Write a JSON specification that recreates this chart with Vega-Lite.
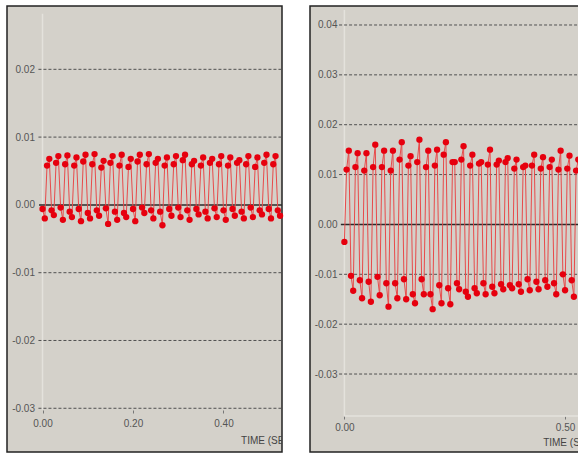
{
  "$schema": "https://vega.github.io/schema/vega-lite/v6.json",
  "background": "white",
  "padding": {"left": 6, "top": 5, "right": 0, "bottom": 0},
  "spacing": 25,
  "config": {
    "view": {"fill": "#d4d1ca", "stroke": "#222222", "strokeWidth": 1.5},
    "axis": {"labelFont": "Liberation Sans", "labelFontSize": 10, "labelColor": "#555555", "grid": false}
  },
  "datasets": {
    "left": [
      {"t":0.000,"v":-0.0006},{"t":0.005,"v":-0.0020},{"t":0.010,"v":0.0058},{"t":0.015,"v":0.0068},
      {"t":0.020,"v":-0.0008},{"t":0.025,"v":-0.0015},{"t":0.030,"v":0.0062},{"t":0.035,"v":0.0072},
      {"t":0.040,"v":-0.0004},{"t":0.045,"v":-0.0022},{"t":0.050,"v":0.0060},{"t":0.055,"v":0.0073},
      {"t":0.060,"v":-0.0010},{"t":0.065,"v":-0.0018},{"t":0.070,"v":0.0058},{"t":0.075,"v":0.0070},
      {"t":0.080,"v":-0.0006},{"t":0.085,"v":-0.0024},{"t":0.090,"v":0.0064},{"t":0.095,"v":0.0074},
      {"t":0.100,"v":-0.0012},{"t":0.105,"v":-0.0020},{"t":0.110,"v":0.0060},{"t":0.115,"v":0.0075},
      {"t":0.120,"v":-0.0008},{"t":0.125,"v":-0.0016},{"t":0.130,"v":0.0055},{"t":0.135,"v":0.0065},
      {"t":0.140,"v":-0.0005},{"t":0.145,"v":-0.0028},{"t":0.150,"v":0.0062},{"t":0.155,"v":0.0072},
      {"t":0.160,"v":-0.0010},{"t":0.165,"v":-0.0022},{"t":0.170,"v":0.0058},{"t":0.175,"v":0.0074},
      {"t":0.180,"v":-0.0012},{"t":0.185,"v":-0.0018},{"t":0.190,"v":0.0056},{"t":0.195,"v":0.0068},
      {"t":0.200,"v":-0.0006},{"t":0.205,"v":-0.0024},{"t":0.210,"v":0.0064},{"t":0.215,"v":0.0074},
      {"t":0.220,"v":-0.0004},{"t":0.225,"v":-0.0012},{"t":0.230,"v":0.0060},{"t":0.235,"v":0.0075},
      {"t":0.240,"v":-0.0008},{"t":0.245,"v":-0.0020},{"t":0.250,"v":0.0062},{"t":0.255,"v":0.0068},
      {"t":0.260,"v":-0.0010},{"t":0.265,"v":-0.0030},{"t":0.270,"v":0.0058},{"t":0.275,"v":0.0070},
      {"t":0.280,"v":-0.0006},{"t":0.285,"v":-0.0016},{"t":0.290,"v":0.0060},{"t":0.295,"v":0.0072},
      {"t":0.300,"v":-0.0004},{"t":0.305,"v":-0.0018},{"t":0.310,"v":0.0066},{"t":0.315,"v":0.0074},
      {"t":0.320,"v":-0.0008},{"t":0.325,"v":-0.0022},{"t":0.330,"v":0.0060},{"t":0.335,"v":0.0065},
      {"t":0.340,"v":-0.0006},{"t":0.345,"v":-0.0014},{"t":0.350,"v":0.0058},{"t":0.355,"v":0.0070},
      {"t":0.360,"v":-0.0010},{"t":0.365,"v":-0.0020},{"t":0.370,"v":0.0062},{"t":0.375,"v":0.0068},
      {"t":0.380,"v":-0.0005},{"t":0.385,"v":-0.0018},{"t":0.390,"v":0.0060},{"t":0.395,"v":0.0072},
      {"t":0.400,"v":-0.0008},{"t":0.405,"v":-0.0022},{"t":0.410,"v":0.0058},{"t":0.415,"v":0.0070},
      {"t":0.420,"v":-0.0006},{"t":0.425,"v":-0.0016},{"t":0.430,"v":0.0062},{"t":0.435,"v":0.0066},
      {"t":0.440,"v":-0.0010},{"t":0.445,"v":-0.0020},{"t":0.450,"v":0.0060},{"t":0.455,"v":0.0072},
      {"t":0.460,"v":-0.0004},{"t":0.465,"v":-0.0018},{"t":0.470,"v":0.0056},{"t":0.475,"v":0.0070},
      {"t":0.480,"v":-0.0008},{"t":0.485,"v":-0.0014},{"t":0.490,"v":0.0062},{"t":0.495,"v":0.0074},
      {"t":0.500,"v":-0.0006},{"t":0.505,"v":-0.0020},{"t":0.510,"v":0.0060},{"t":0.515,"v":0.0072},
      {"t":0.520,"v":-0.0008},{"t":0.525,"v":-0.0016}
    ],
    "right": [
      {"t":0.000,"v":-0.0035},
      {"t":0.005,"v":0.0110},{"t":0.010,"v":0.0148},{"t":0.015,"v":-0.0103},{"t":0.020,"v":-0.0133},
      {"t":0.025,"v":0.0115},{"t":0.030,"v":0.0143},{"t":0.035,"v":-0.0112},{"t":0.040,"v":-0.0148},
      {"t":0.045,"v":0.0108},{"t":0.050,"v":0.0143},{"t":0.055,"v":-0.0115},{"t":0.060,"v":-0.0155},
      {"t":0.065,"v":0.0115},{"t":0.070,"v":0.0160},{"t":0.075,"v":-0.0105},{"t":0.080,"v":-0.0142},
      {"t":0.085,"v":0.0115},{"t":0.090,"v":0.0148},{"t":0.095,"v":-0.0118},{"t":0.100,"v":-0.0165},
      {"t":0.105,"v":0.0108},{"t":0.110,"v":0.0148},{"t":0.115,"v":-0.0118},{"t":0.120,"v":-0.0148},
      {"t":0.125,"v":0.0130},{"t":0.130,"v":0.0165},{"t":0.135,"v":-0.0110},{"t":0.140,"v":-0.0150},
      {"t":0.145,"v":0.0118},{"t":0.150,"v":0.0137},{"t":0.155,"v":-0.0140},{"t":0.160,"v":-0.0158},
      {"t":0.165,"v":0.0125},{"t":0.170,"v":0.0170},{"t":0.175,"v":-0.0110},{"t":0.180,"v":-0.0140},
      {"t":0.185,"v":0.0115},{"t":0.190,"v":0.0148},{"t":0.195,"v":-0.0140},{"t":0.200,"v":-0.0170},
      {"t":0.205,"v":0.0118},{"t":0.210,"v":0.0150},{"t":0.215,"v":-0.0122},{"t":0.220,"v":-0.0158},
      {"t":0.225,"v":0.0140},{"t":0.230,"v":0.0165},{"t":0.235,"v":-0.0128},{"t":0.240,"v":-0.0160},
      {"t":0.245,"v":0.0125},{"t":0.250,"v":0.0125},{"t":0.255,"v":-0.0118},{"t":0.260,"v":-0.0130},
      {"t":0.265,"v":0.0130},{"t":0.270,"v":0.0157},{"t":0.275,"v":-0.0135},{"t":0.280,"v":-0.0145},
      {"t":0.285,"v":0.0118},{"t":0.290,"v":0.0140},{"t":0.295,"v":-0.0128},{"t":0.300,"v":-0.0138},
      {"t":0.305,"v":0.0122},{"t":0.310,"v":0.0125},{"t":0.315,"v":-0.0118},{"t":0.320,"v":-0.0140},
      {"t":0.325,"v":0.0120},{"t":0.330,"v":0.0150},{"t":0.335,"v":-0.0125},{"t":0.340,"v":-0.0138},
      {"t":0.345,"v":0.0120},{"t":0.350,"v":0.0128},{"t":0.355,"v":-0.0120},{"t":0.360,"v":-0.0130},
      {"t":0.365,"v":0.0125},{"t":0.370,"v":0.0133},{"t":0.375,"v":-0.0122},{"t":0.380,"v":-0.0128},
      {"t":0.385,"v":0.0112},{"t":0.390,"v":0.0130},{"t":0.395,"v":-0.0120},{"t":0.400,"v":-0.0135},
      {"t":0.405,"v":0.0115},{"t":0.410,"v":0.0118},{"t":0.415,"v":-0.0110},{"t":0.420,"v":-0.0132},
      {"t":0.425,"v":0.0118},{"t":0.430,"v":0.0140},{"t":0.435,"v":-0.0115},{"t":0.440,"v":-0.0130},
      {"t":0.445,"v":0.0112},{"t":0.450,"v":0.0135},{"t":0.455,"v":-0.0112},{"t":0.460,"v":-0.0125},
      {"t":0.465,"v":0.0115},{"t":0.470,"v":0.0130},{"t":0.475,"v":-0.0118},{"t":0.480,"v":-0.0140},
      {"t":0.485,"v":0.0110},{"t":0.490,"v":0.0148},{"t":0.495,"v":-0.0100},{"t":0.500,"v":-0.0132},
      {"t":0.505,"v":0.0112},{"t":0.510,"v":0.0138},{"t":0.515,"v":-0.0112},{"t":0.520,"v":-0.0145},
      {"t":0.525,"v":0.0108},{"t":0.530,"v":0.0130}
    ]
  },
  "hconcat": [
    {
      "width": 275,
      "height": 446,
      "layer": [
        {
          "data": {"values": [{"v":-0.0302}]},
          "mark": {"type": "rule", "color": "#e4e2dc", "strokeWidth": 1.5},
          "encoding": {
            "y": {"field": "v", "type": "quantitative", "scale": {"domain": [-0.03645, 0.02934], "nice": false, "zero": false},
                  "axis": {"values": [-0.03, -0.02, -0.01, 0, 0.01, 0.02], "labelExpr": "replace(format(datum.value, '.2f'), '\u2212', '-')", "offset": -35.5, "domain": false, "ticks": false, "tickSize": 0, "labelPadding": 8, "title": null, "grid": false}},
            "y2": {"datum": 0.0282},
            "x": {"datum": 0, "scale": {"domain": [-0.0785, 0.5293], "nice": false, "zero": false},
                  "axis": {"values": [0, 0.2, 0.4], "format": ".2f", "offset": -42, "domain": false, "ticks": true, "tickSize": 3, "tickColor": "#777777", "labelPadding": 5, "title": null, "grid": false}}
          }
        },
        {
          "data": {"values": [{"v":0.02},{"v":0.01},{"v":-0.01},{"v":-0.02},{"v":-0.03}]},
          "mark": {"type": "rule", "color": "#505050", "strokeWidth": 1, "strokeDash": [3, 2]},
          "encoding": {
            "y": {"field": "v", "type": "quantitative", "scale": {"domain": [-0.03645, 0.02934], "nice": false, "zero": false},
                  "axis": {"values": [-0.03, -0.02, -0.01, 0, 0.01, 0.02], "labelExpr": "replace(format(datum.value, '.2f'), '\u2212', '-')", "offset": -35.5, "domain": false, "ticks": false, "tickSize": 0, "labelPadding": 8, "title": null, "grid": false}},
            "x": {"datum": -0.009, "scale": {"domain": [-0.0785, 0.5293], "nice": false, "zero": false},
                  "axis": {"values": [0, 0.2, 0.4], "format": ".2f", "offset": -42, "domain": false, "ticks": true, "tickSize": 3, "tickColor": "#777777", "labelPadding": 5, "title": null, "grid": false}},
            "x2": {"datum": 0.5293}
          }
        },
        {
          "data": {"values": [{"v":0}]},
          "mark": {"type": "rule", "color": "#2a2a2a", "strokeWidth": 1.5},
          "encoding": {
            "y": {"field": "v", "type": "quantitative", "scale": {"domain": [-0.03645, 0.02934], "nice": false, "zero": false},
                  "axis": {"values": [-0.03, -0.02, -0.01, 0, 0.01, 0.02], "labelExpr": "replace(format(datum.value, '.2f'), '\u2212', '-')", "offset": -35.5, "domain": false, "ticks": false, "tickSize": 0, "labelPadding": 8, "title": null, "grid": false}},
            "x": {"datum": -0.0077, "scale": {"domain": [-0.0785, 0.5293], "nice": false, "zero": false},
                  "axis": {"values": [0, 0.2, 0.4], "format": ".2f", "offset": -42, "domain": false, "ticks": true, "tickSize": 3, "tickColor": "#777777", "labelPadding": 5, "title": null, "grid": false}},
            "x2": {"datum": 0.5293}
          }
        },
        {
          "data": {"name": "left"},
          "mark": {"type": "line", "color": "#e84a4a", "strokeWidth": 1},
          "encoding": {
            "x": {"field": "t", "type": "quantitative", "scale": {"domain": [-0.0785, 0.5293], "nice": false, "zero": false},
                  "axis": {"values": [0, 0.2, 0.4], "format": ".2f", "offset": -42, "domain": false, "ticks": true, "tickSize": 3, "tickColor": "#777777", "labelPadding": 5, "title": null, "grid": false}},
            "y": {"field": "v", "type": "quantitative", "scale": {"domain": [-0.03645, 0.02934], "nice": false, "zero": false},
                  "axis": {"values": [-0.03, -0.02, -0.01, 0, 0.01, 0.02], "labelExpr": "replace(format(datum.value, '.2f'), '\u2212', '-')", "offset": -35.5, "domain": false, "ticks": false, "tickSize": 0, "labelPadding": 8, "title": null, "grid": false}}
          }
        },
        {
          "data": {"name": "left"},
          "mark": {"type": "circle", "color": "#e6000e", "size": 40, "opacity": 1},
          "encoding": {
            "x": {"field": "t", "type": "quantitative", "scale": {"domain": [-0.0785, 0.5293], "nice": false, "zero": false},
                  "axis": {"values": [0, 0.2, 0.4], "format": ".2f", "offset": -42, "domain": false, "ticks": true, "tickSize": 3, "tickColor": "#777777", "labelPadding": 5, "title": null, "grid": false}},
            "y": {"field": "v", "type": "quantitative", "scale": {"domain": [-0.03645, 0.02934], "nice": false, "zero": false},
                  "axis": {"values": [-0.03, -0.02, -0.01, 0, 0.01, 0.02], "labelExpr": "replace(format(datum.value, '.2f'), '\u2212', '-')", "offset": -35.5, "domain": false, "ticks": false, "tickSize": 0, "labelPadding": 8, "title": null, "grid": false}}
          }
        },
        {
          "data": {"values": [{"label": "TIME (SEC)"}]},
          "mark": {"type": "text", "align": "left", "baseline": "middle", "font": "Liberation Sans", "fontSize": 10, "color": "#444444", "clip": true},
          "encoding": {
            "x": {"datum": 0.4388, "scale": {"domain": [-0.0785, 0.5293], "nice": false, "zero": false},
                  "axis": {"values": [0, 0.2, 0.4], "format": ".2f", "offset": -42, "domain": false, "ticks": true, "tickSize": 3, "tickColor": "#777777", "labelPadding": 5, "title": null, "grid": false}},
            "y": {"datum": -0.03483, "scale": {"domain": [-0.03645, 0.02934], "nice": false, "zero": false},
                  "axis": {"values": [-0.03, -0.02, -0.01, 0, 0.01, 0.02], "labelExpr": "replace(format(datum.value, '.2f'), '\u2212', '-')", "offset": -35.5, "domain": false, "ticks": false, "tickSize": 0, "labelPadding": 8, "title": null, "grid": false}},
            "text": {"field": "label"}
          }
        }
      ]
    },
    {
      "width": 271,
      "height": 446,
      "layer": [
        {
          "data": {"values": [{"v":-0.0384}]},
          "mark": {"type": "rule", "color": "#e4e2dc", "strokeWidth": 1.5},
          "encoding": {
            "y": {"field": "v", "type": "quantitative", "scale": {"domain": [-0.04564, 0.04381], "nice": false, "zero": false},
                  "axis": {"values": [-0.03, -0.02, -0.01, 0, 0.01, 0.02, 0.03, 0.04], "labelExpr": "replace(format(datum.value, '.2f'), '\u2212', '-')", "offset": -34.5, "domain": false, "ticks": false, "tickSize": 0, "labelPadding": 7.5, "title": null, "grid": false}},
            "y2": {"datum": 0.0430},
            "x": {"datum": 0, "scale": {"domain": [-0.0779, 0.5361], "nice": false, "zero": false},
                  "axis": {"values": [0, 0.5], "format": ".2f", "offset": -36, "domain": false, "ticks": true, "tickSize": 3, "tickColor": "#777777", "labelPadding": 3, "title": null, "grid": false}}
          }
        },
        {
          "data": {"values": [{"v":-0.0384}]},
          "mark": {"type": "rule", "color": "#e4e2dc", "strokeWidth": 1.5},
          "encoding": {
            "y": {"field": "v", "type": "quantitative", "scale": {"domain": [-0.04564, 0.04381], "nice": false, "zero": false},
                  "axis": {"values": [-0.03, -0.02, -0.01, 0, 0.01, 0.02, 0.03, 0.04], "labelExpr": "replace(format(datum.value, '.2f'), '\u2212', '-')", "offset": -34.5, "domain": false, "ticks": false, "tickSize": 0, "labelPadding": 7.5, "title": null, "grid": false}},
            "x": {"datum": 0, "scale": {"domain": [-0.0779, 0.5361], "nice": false, "zero": false},
                  "axis": {"values": [0, 0.5], "format": ".2f", "offset": -36, "domain": false, "ticks": true, "tickSize": 3, "tickColor": "#777777", "labelPadding": 3, "title": null, "grid": false}},
            "x2": {"datum": 0.5361}
          }
        },
        {
          "data": {"values": [{"v":0.04},{"v":0.03},{"v":0.02},{"v":0.01},{"v":-0.01},{"v":-0.02},{"v":-0.03}]},
          "mark": {"type": "rule", "color": "#505050", "strokeWidth": 1, "strokeDash": [3, 2]},
          "encoding": {
            "y": {"field": "v", "type": "quantitative", "scale": {"domain": [-0.04564, 0.04381], "nice": false, "zero": false},
                  "axis": {"values": [-0.03, -0.02, -0.01, 0, 0.01, 0.02, 0.03, 0.04], "labelExpr": "replace(format(datum.value, '.2f'), '\u2212', '-')", "offset": -34.5, "domain": false, "ticks": false, "tickSize": 0, "labelPadding": 7.5, "title": null, "grid": false}},
            "x": {"datum": -0.012, "scale": {"domain": [-0.0779, 0.5361], "nice": false, "zero": false},
                  "axis": {"values": [0, 0.5], "format": ".2f", "offset": -36, "domain": false, "ticks": true, "tickSize": 3, "tickColor": "#777777", "labelPadding": 3, "title": null, "grid": false}},
            "x2": {"datum": 0.5361}
          }
        },
        {
          "data": {"values": [{"v":0}]},
          "mark": {"type": "rule", "color": "#2a2a2a", "strokeWidth": 1.5},
          "encoding": {
            "y": {"field": "v", "type": "quantitative", "scale": {"domain": [-0.04564, 0.04381], "nice": false, "zero": false},
                  "axis": {"values": [-0.03, -0.02, -0.01, 0, 0.01, 0.02, 0.03, 0.04], "labelExpr": "replace(format(datum.value, '.2f'), '\u2212', '-')", "offset": -34.5, "domain": false, "ticks": false, "tickSize": 0, "labelPadding": 7.5, "title": null, "grid": false}},
            "x": {"datum": -0.008, "scale": {"domain": [-0.0779, 0.5361], "nice": false, "zero": false},
                  "axis": {"values": [0, 0.5], "format": ".2f", "offset": -36, "domain": false, "ticks": true, "tickSize": 3, "tickColor": "#777777", "labelPadding": 3, "title": null, "grid": false}},
            "x2": {"datum": 0.5361}
          }
        },
        {
          "data": {"name": "right"},
          "mark": {"type": "line", "color": "#e84a4a", "strokeWidth": 1},
          "encoding": {
            "x": {"field": "t", "type": "quantitative", "scale": {"domain": [-0.0779, 0.5361], "nice": false, "zero": false},
                  "axis": {"values": [0, 0.5], "format": ".2f", "offset": -36, "domain": false, "ticks": true, "tickSize": 3, "tickColor": "#777777", "labelPadding": 3, "title": null, "grid": false}},
            "y": {"field": "v", "type": "quantitative", "scale": {"domain": [-0.04564, 0.04381], "nice": false, "zero": false},
                  "axis": {"values": [-0.03, -0.02, -0.01, 0, 0.01, 0.02, 0.03, 0.04], "labelExpr": "replace(format(datum.value, '.2f'), '\u2212', '-')", "offset": -34.5, "domain": false, "ticks": false, "tickSize": 0, "labelPadding": 7.5, "title": null, "grid": false}}
          }
        },
        {
          "data": {"name": "right"},
          "mark": {"type": "circle", "color": "#e6000e", "size": 40, "opacity": 1},
          "encoding": {
            "x": {"field": "t", "type": "quantitative", "scale": {"domain": [-0.0779, 0.5361], "nice": false, "zero": false},
                  "axis": {"values": [0, 0.5], "format": ".2f", "offset": -36, "domain": false, "ticks": true, "tickSize": 3, "tickColor": "#777777", "labelPadding": 3, "title": null, "grid": false}},
            "y": {"field": "v", "type": "quantitative", "scale": {"domain": [-0.04564, 0.04381], "nice": false, "zero": false},
                  "axis": {"values": [-0.03, -0.02, -0.01, 0, 0.01, 0.02, 0.03, 0.04], "labelExpr": "replace(format(datum.value, '.2f'), '\u2212', '-')", "offset": -34.5, "domain": false, "ticks": false, "tickSize": 0, "labelPadding": 7.5, "title": null, "grid": false}}
          }
        },
        {
          "data": {"values": [{"label": "TIME (SEC)"}]},
          "mark": {"type": "text", "align": "left", "baseline": "middle", "font": "Liberation Sans", "fontSize": 10, "color": "#444444", "clip": true},
          "encoding": {
            "x": {"datum": 0.4503, "scale": {"domain": [-0.0779, 0.5361], "nice": false, "zero": false},
                  "axis": {"values": [0, 0.5], "format": ".2f", "offset": -36, "domain": false, "ticks": true, "tickSize": 3, "tickColor": "#777777", "labelPadding": 3, "title": null, "grid": false}},
            "y": {"datum": -0.04384, "scale": {"domain": [-0.04564, 0.04381], "nice": false, "zero": false},
                  "axis": {"values": [-0.03, -0.02, -0.01, 0, 0.01, 0.02, 0.03, 0.04], "labelExpr": "replace(format(datum.value, '.2f'), '\u2212', '-')", "offset": -34.5, "domain": false, "ticks": false, "tickSize": 0, "labelPadding": 7.5, "title": null, "grid": false}},
            "text": {"field": "label"}
          }
        }
      ]
    }
  ]
}
